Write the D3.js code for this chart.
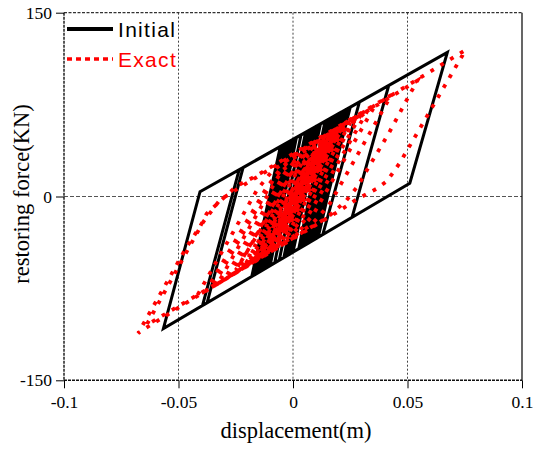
<!DOCTYPE html>
<html>
<head>
<meta charset="utf-8">
<script src="https://cdn.jsdelivr.net/npm/d3@7/dist/d3.min.js"></script>
<style>
  html, body { margin: 0; padding: 0; background: #fff; }
  svg { display: block; }
</style>
</head>
<body>
<svg id="chart" width="534" height="454"></svg>
<script>
// Restoring force vs displacement hysteresis: "Initial" model (solid black)
// against the "Exact" response (red dotted). Displacement in m, force in kN.

const xTicks = [-0.1, -0.05, 0, 0.05, 0.1];
const yTicks = [-150, 0, 150];

const initialDisp = [
  0, 0.0057, 0.010, -0.0015, -0.006, 0.0055, 0.014, 0.0025, -0.010, 0.0015,
  0.018, 0.0065, -0.013, -0.0015, 0.021, 0.009, -0.015, -0.003, 0.0674, 0.0510,
  -0.0566, -0.0406, 0.0418, 0.0258, -0.0395, -0.0235, 0.029, 0.013, -0.0375, -0.0218,
  0.025, 0.0105, -0.016, -0.004, 0.022, 0.010, -0.014, -0.002, 0.020, 0.008,
  -0.015, -0.003, 0.017, 0.005, -0.012, 0.000, 0.019, 0.007, -0.011, 0.001,
  0.016, 0.004, -0.013, -0.001, 0.012, 0.000, -0.008, 0.0035, 0.015, 0.003,
  -0.006, 0.0055, 0.011, -0.0005, -0.004, 0.0075, 0.009, -0.003, -0.018, -0.0055,
  0.024, 0.011, -0.0175, -0.005, 0.023, 0.0105, -0.008, 0.0035, 0.006, 0.002
];
const initialForce = [
  0, 52.6, 57.1, -47.1, -52.0, 52.4, 61.3, -42.6, -56.4, 48.2,
  65.6, -38.2, -59.7, 45.0, 68.7, -35.5, -61.9, 43.4, 117.6, 10.8,
  -107.8, 3.9, 90.6, -17.0, -88.9, 21.9, 77.1, -31.1, -86.7, 23.6,
  72.9, -33.8, -63.0, 42.4, 69.8, -34.4, -60.8, 44.5, 67.7, -36.6,
  -61.9, 43.4, 64.5, -39.9, -58.6, 46.6, 66.6, -37.7, -57.5, 47.7,
  63.4, -41.0, -59.7, 45.5, 59.2, -45.4, -54.2, 50.3, 62.4, -42.1,
  -52.0, 52.4, 58.2, -46.0, -49.8, 54.5, 56.1, -48.7, -65.2, 40.8,
  71.9, -33.3, -64.7, 41.3, 70.8, -33.8, -54.2, 50.3, 52.9, 15.0
];

const exactDisp = [
  0, 0.0098, 0.014, -0.0042, -0.012, 0.0104, 0.020, -0.008, -0.020, 0.0122,
  0.026, 0.000, -0.008, -0.028, -0.0018, 0.006, 0.015, 0.0543, 0.0512, 0.0418,
  0.0323, 0.0285, 0.023, 0.015, -0.042, -0.0157, -0.009, -0.001, 0.030, 0.0032,
  -0.005, -0.013, -0.064, -0.0472, -0.0393, -0.032, -0.024, 0.0753, 0.0467, 0.0437,
  0.041, 0.0367, 0.0276, 0.020, -0.042, -0.0632, -0.0676, -0.0537, -0.0464, -0.0406,
  -0.0377, -0.032, -0.0246, -0.0166, 0.043, 0.0157, 0.008, 0.000, -0.035, -0.0087,
  -0.002, 0.005, 0.028, 0.0011, -0.006, -0.013, -0.030, -0.0037, 0.003, 0.010,
  0.024, -0.0028, -0.009, -0.015, -0.026, 0.0003, 0.006, 0.012, 0.022, -0.0042,
  -0.010, -0.022, 0.0039, 0.010, 0.020, -0.0054, -0.011, -0.018, 0.0072, 0.011,
  0.016, -0.0082, -0.011, -0.014, 0.0095, 0.013, -0.006, -0.010, 0.0055, 0.010,
  -0.0025, -0.006, 0.003, 0.006, -0.002, 0.002, 0.011, 0.018, -0.0062, -0.011,
  -0.016, 0.007, 0.013, 0.021, -0.0057, -0.013, -0.024, 0.0018, 0.009, 0.017,
  -0.006, -0.010, 0.010, 0.016, 0.023, -0.0037, -0.011, -0.019, 0.004, 0.011,
  -0.001, -0.004, 0.004, 0.009, 0.015, -0.004, -0.009, -0.013, 0.007, 0.013,
  0.019, -0.003, -0.010, -0.017, 0.0072, 0.015, 0.025, -0.0017, -0.011, -0.021,
  0.005, 0.014, -0.0078, -0.015, 0.0086, 0.014, 0.020, -0.003, -0.008, 0.012,
  0.017, 0.022, -0.004, -0.013, -0.025, 0.002, 0.010, -0.006, 0.005, 0.011,
  0.018, 0.036, 0.0089, 0.002, -0.006, -0.038, -0.0117, -0.005, 0.002, 0.033,
  0.006, -0.001, -0.009, -0.033, -0.005, 0.003
];
const exactForce = [
  0, 38.2, 45, -27.3, -40, 39.9, 54, -38.6, -55, 44.4,
  62, -23.8, -40, -65.5, 21, 38, 50, 94.5, 84.1, 51.5,
  21.6, 9, -4, -17, -81.4, 5.4, 21, 31.5, 68, -20.5,
  -37, -48.5, -105, -47.7, -21, -3, 6.5, 119.4, 27.6, 19.5,
  12.5, 6.5, -2.5, -12, -81.5, -106.1, -111.5, -65.4, -41, -24.6,
  -14, -4, 8.5, 16.3, 83, -7.1, -23, -33, -73.5, 13.3,
  29, 37.5, 66, -23, -38, -48.5, -68, 18.8, 34, 44,
  61.5, -27, -41, -49.5, -63.5, 22.8, 36, 44.5, 58, -28.5,
  -42, -58, 27.3, 41.5, 54, -30.2, -43, -52, 31, 39,
  47, -33, -39, -44, 31.8, 40, -24, -35, 20, 33,
  -12, -24, 12, 20, -8, 6, 37, 50, -30, -41,
  -48, 28, 43, 55, -33, -47, -58, 27, 40, 50,
  -26, -36, 30, 47, 58, -30, -44, -52, 24, 36,
  -3.6, -14, 16, 33, 45, -20, -36, -45, 23, 42,
  52, -20.6, -38, -50, 30, 48, 60, -28, -45, -56,
  29, 42, -30, -46, 32, 45, 55, -20.9, -30, 37,
  48, 57, -28.8, -47, -60, 22, 36, -20, 14, 32,
  48, 75, -14.5, -30, -40.5, -77, 6.7, 24, 33.5, 71.5,
  -17.6, -32, -42.5, -71.5, 21, 32
];

const seriesNames = ["Initial", "Exact"];

const plotLeft = 64, plotRight = 522, plotTop = 12.7, plotBottom = 380.3;

const svg = d3.select("#chart");
const x = d3.scaleLinear().domain([-0.1, 0.1]).range([plotLeft, plotRight]);
const y = d3.scaleLinear().domain([-150, 150]).range([plotBottom, plotTop]);

// interior reference lines
const grid = svg.append("g");
grid.selectAll("line.vx")
  .data(xTicks.filter(d => d > -0.1 && d < 0.1))
  .join("line")
  .attr("x1", d => x(d)).attr("x2", d => x(d))
  .attr("y1", plotTop).attr("y2", plotBottom)
  .attr("stroke", "#444").attr("stroke-width", 1)
  .attr("stroke-dasharray", "2,2");
grid.selectAll("line.hy")
  .data(yTicks.filter(d => d > -150 && d < 150))
  .join("line")
  .attr("x1", plotLeft).attr("x2", plotRight)
  .attr("y1", d => y(d)).attr("y2", d => y(d))
  .attr("stroke", "#555").attr("stroke-width", 1)
  .attr("stroke-dasharray", "4,2");

// frame
const frame = svg.append("g").attr("fill", "none");
frame.append("line").attr("x1", plotLeft).attr("x2", plotRight).attr("y1", plotTop).attr("y2", plotTop)
  .attr("stroke", "#333").attr("stroke-width", 1.2).attr("stroke-dasharray", "3,1.5");
frame.append("line").attr("x1", plotRight).attr("x2", plotRight).attr("y1", plotTop).attr("y2", plotBottom)
  .attr("stroke", "#000").attr("stroke-width", 1.2);
frame.append("line").attr("x1", plotLeft).attr("x2", plotLeft).attr("y1", plotTop).attr("y2", plotBottom)
  .attr("stroke", "#111").attr("stroke-width", 1.4).attr("stroke-dasharray", "3,1");
frame.append("line").attr("x1", plotLeft).attr("x2", plotRight).attr("y1", plotBottom).attr("y2", plotBottom)
  .attr("stroke", "#111").attr("stroke-width", 1.4).attr("stroke-dasharray", "3,1");

// axes
const fmt = d => (d === 0 ? "0" : String(d));
const xAxis = svg.append("g")
  .attr("transform", `translate(0,${plotBottom})`)
  .call(d3.axisBottom(x).tickValues(xTicks).tickFormat(fmt).tickSize(8).tickPadding(7));
const yAxis = svg.append("g")
  .attr("transform", `translate(${plotLeft},0)`)
  .call(d3.axisLeft(y).tickValues(yTicks).tickFormat(fmt).tickSize(8).tickPadding(4));
[xAxis, yAxis].forEach(g => {
  g.select(".domain").remove();
  g.selectAll(".tick line").attr("stroke", "#000").attr("stroke-width", 1);
  g.selectAll(".tick text")
    .attr("fill", "#000")
    .style("font-family", "'Liberation Serif', 'Times New Roman', serif")
    .style("font-size", "17.5px");
});

// hysteresis curves
const initialPts = initialDisp.map((d, i) => [d, initialForce[i]]);
const exactPts = exactDisp.map((d, i) => [d, exactForce[i]]);
const line = d3.line().x(d => x(d[0])).y(d => y(d[1]));

svg.append("path")
  .datum(initialPts)
  .attr("d", line)
  .attr("fill", "none")
  .attr("stroke", "#000")
  .attr("stroke-width", 3)
  .attr("stroke-linejoin", "miter")
  .attr("stroke-miterlimit", 6);

svg.append("path")
  .datum(exactPts)
  .attr("d", line)
  .attr("fill", "none")
  .attr("stroke", "#ff0000")
  .attr("stroke-width", 3.8)
  .attr("stroke-dasharray", "3.8,7.7");

// axis titles
svg.append("text")
  .attr("x", 296).attr("y", 438)
  .attr("text-anchor", "middle")
  .style("font-family", "'Liberation Serif', 'Times New Roman', serif")
  .style("font-size", "22.5px")
  .text("displacement(m)");
svg.append("text")
  .attr("transform", "translate(29,194) rotate(-90)")
  .attr("text-anchor", "middle")
  .style("font-family", "'Liberation Serif', 'Times New Roman', serif")
  .style("font-size", "22.5px")
  .text("restoring force(KN)");

// legend
const legend = svg.append("g");
const legendRows = [
  { name: seriesNames[0], color: "#000", width: 4.2, dash: null, ly: 29 },
  { name: seriesNames[1], color: "#ff0000", width: 3.6, dash: "5,4", ly: 59 }
];
legendRows.forEach(r => {
  legend.append("line")
    .attr("x1", 67).attr("x2", 113)
    .attr("y1", r.ly).attr("y2", r.ly)
    .attr("stroke", r.color).attr("stroke-width", r.width)
    .attr("stroke-dasharray", r.dash);
  legend.append("text")
    .attr("x", 118).attr("y", r.ly + 7.5)
    .attr("fill", r.color)
    .style("font-family", "'Liberation Sans', Arial, sans-serif")
    .style("font-size", "21px")
    .style("letter-spacing", "1.3px")
    .text(r.name);
});
</script>
</body>
</html>
